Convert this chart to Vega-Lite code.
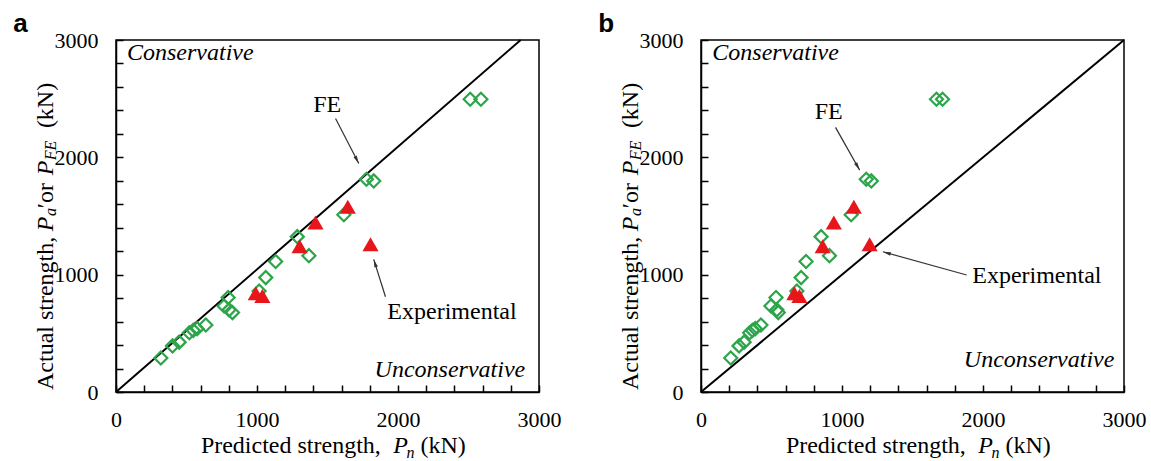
{
  "$schema": "https://vega.github.io/schema/vega-lite/v6.json",
  "background": "white",
  "padding": {"left": 12, "top": 10, "right": 5, "bottom": 0},
  "config": {
    "view": {"stroke": "black", "strokeWidth": 1.5},
    "font": "Liberation Serif"
  },
  "data": {
    "values": [
      {"panel": "a", "kind": "diag", "x": 0, "y": 0},
      {"panel": "a", "kind": "diag", "x": 2870, "y": 3000},
      {"panel": "b", "kind": "diag", "x": 0, "y": 0},
      {"panel": "b", "kind": "diag", "x": 3000, "y": 3000},

      {"panel": "a", "kind": "FE", "x": 318, "y": 290},
      {"panel": "a", "kind": "FE", "x": 401, "y": 393},
      {"panel": "a", "kind": "FE", "x": 448, "y": 425},
      {"panel": "a", "kind": "FE", "x": 520, "y": 505},
      {"panel": "a", "kind": "FE", "x": 548, "y": 525},
      {"panel": "a", "kind": "FE", "x": 575, "y": 540},
      {"panel": "a", "kind": "FE", "x": 637, "y": 571},
      {"panel": "a", "kind": "FE", "x": 767, "y": 733},
      {"panel": "a", "kind": "FE", "x": 795, "y": 805},
      {"panel": "a", "kind": "FE", "x": 802, "y": 700},
      {"panel": "a", "kind": "FE", "x": 826, "y": 677},
      {"panel": "a", "kind": "FE", "x": 1015, "y": 860},
      {"panel": "a", "kind": "FE", "x": 1062, "y": 975},
      {"panel": "a", "kind": "FE", "x": 1132, "y": 1112},
      {"panel": "a", "kind": "FE", "x": 1286, "y": 1324},
      {"panel": "a", "kind": "FE", "x": 1368, "y": 1162},
      {"panel": "a", "kind": "FE", "x": 1616, "y": 1511},
      {"panel": "a", "kind": "FE", "x": 1776, "y": 1813},
      {"panel": "a", "kind": "FE", "x": 1828, "y": 1799},
      {"panel": "a", "kind": "FE", "x": 2512, "y": 2495},
      {"panel": "a", "kind": "FE", "x": 2588, "y": 2495},

      {"panel": "b", "kind": "FE", "x": 211, "y": 290},
      {"panel": "b", "kind": "FE", "x": 270, "y": 393},
      {"panel": "b", "kind": "FE", "x": 306, "y": 425},
      {"panel": "b", "kind": "FE", "x": 345, "y": 505},
      {"panel": "b", "kind": "FE", "x": 365, "y": 525},
      {"panel": "b", "kind": "FE", "x": 385, "y": 540},
      {"panel": "b", "kind": "FE", "x": 425, "y": 571},
      {"panel": "b", "kind": "FE", "x": 496, "y": 733},
      {"panel": "b", "kind": "FE", "x": 532, "y": 805},
      {"panel": "b", "kind": "FE", "x": 538, "y": 700},
      {"panel": "b", "kind": "FE", "x": 548, "y": 677},
      {"panel": "b", "kind": "FE", "x": 680, "y": 860},
      {"panel": "b", "kind": "FE", "x": 710, "y": 975},
      {"panel": "b", "kind": "FE", "x": 745, "y": 1112},
      {"panel": "b", "kind": "FE", "x": 852, "y": 1324},
      {"panel": "b", "kind": "FE", "x": 911, "y": 1162},
      {"panel": "b", "kind": "FE", "x": 1065, "y": 1511},
      {"panel": "b", "kind": "FE", "x": 1172, "y": 1813},
      {"panel": "b", "kind": "FE", "x": 1208, "y": 1799},
      {"panel": "b", "kind": "FE", "x": 1670, "y": 2495},
      {"panel": "b", "kind": "FE", "x": 1713, "y": 2495},

      {"panel": "a", "kind": "Exp", "x": 991, "y": 841},
      {"panel": "a", "kind": "Exp", "x": 1038, "y": 818},
      {"panel": "a", "kind": "Exp", "x": 1302, "y": 1242},
      {"panel": "a", "kind": "Exp", "x": 1415, "y": 1444},
      {"panel": "a", "kind": "Exp", "x": 1644, "y": 1578},
      {"panel": "a", "kind": "Exp", "x": 1805, "y": 1260},

      {"panel": "b", "kind": "Exp", "x": 662, "y": 841},
      {"panel": "b", "kind": "Exp", "x": 698, "y": 818},
      {"panel": "b", "kind": "Exp", "x": 863, "y": 1242},
      {"panel": "b", "kind": "Exp", "x": 942, "y": 1444},
      {"panel": "b", "kind": "Exp", "x": 1084, "y": 1578},
      {"panel": "b", "kind": "Exp", "x": 1196, "y": 1260},

      {"panel": "a", "kind": "arrow", "id": "FEa", "x": 1557, "y": 2331, "x2": 1722, "y2": 1948},
      {"panel": "a", "kind": "arrow", "id": "Expa", "x": 1911, "y": 812, "x2": 1828, "y2": 1130},
      {"panel": "b", "kind": "arrow", "id": "FEb", "x": 954, "y": 2255, "x2": 1125, "y2": 1891},
      {"panel": "b", "kind": "arrow", "id": "Expb", "x": 1884, "y": 997, "x2": 1290, "y2": 1195},

      {"panel": "a", "kind": "note", "label": "FE", "x": 1498, "y": 2445},
      {"panel": "a", "kind": "note", "label": "Experimental", "x": 2383, "y": 684},
      {"panel": "b", "kind": "note", "label": "FE", "x": 906, "y": 2388},
      {"panel": "b", "kind": "note", "label": "Experimental", "x": 2382, "y": 991},
      {"panel": "a", "kind": "noteL", "label": "Conservative", "x": 78, "y": 2885},
      {"panel": "b", "kind": "noteL", "label": "Conservative", "x": 80, "y": 2885},
      {"panel": "a", "kind": "noteR", "label": "Unconservative", "x": 2902, "y": 187},
      {"panel": "b", "kind": "noteR", "label": "Unconservative", "x": 2932, "y": 273},

      {"panel": "a", "kind": "xt", "label": "Predicted strength,", "x": 602, "y": -520},
      {"panel": "a", "kind": "xti", "label": "P", "x": 1966, "y": -520},
      {"panel": "a", "kind": "xts", "label": "n", "x": 2060, "y": -563},
      {"panel": "a", "kind": "xt", "label": "(kN)", "x": 2159, "y": -520},
      {"panel": "b", "kind": "xt", "label": "Predicted strength,", "x": 602, "y": -520},
      {"panel": "b", "kind": "xti", "label": "P", "x": 1966, "y": -520},
      {"panel": "b", "kind": "xts", "label": "n", "x": 2060, "y": -563},
      {"panel": "b", "kind": "xt", "label": "(kN)", "x": 2159, "y": -520},

      {"panel": "a", "kind": "yt", "label": "Actual strength,", "x": -446, "y": 17},
      {"panel": "a", "kind": "yti", "label": "P", "x": -446, "y": 1371},
      {"panel": "a", "kind": "yts", "label": "a", "x": -422, "y": 1499},
      {"panel": "a", "kind": "yt", "label": "′or", "x": -446, "y": 1567},
      {"panel": "a", "kind": "yti", "label": "P", "x": -446, "y": 1848},
      {"panel": "a", "kind": "yts", "label": "FE", "x": -422, "y": 1976},
      {"panel": "a", "kind": "yt", "label": "(kN)", "x": -446, "y": 2249},
      {"panel": "b", "kind": "yt", "label": "Actual strength,", "x": -446, "y": 17},
      {"panel": "b", "kind": "yti", "label": "P", "x": -446, "y": 1371},
      {"panel": "b", "kind": "yts", "label": "a", "x": -422, "y": 1499},
      {"panel": "b", "kind": "yt", "label": "′or", "x": -446, "y": 1567},
      {"panel": "b", "kind": "yti", "label": "P", "x": -446, "y": 1848},
      {"panel": "b", "kind": "yts", "label": "FE", "x": -422, "y": 1976},
      {"panel": "b", "kind": "yt", "label": "(kN)", "x": -446, "y": 2249},

      {"panel": "a", "kind": "tag", "label": "a", "x": -729, "y": 3068},
      {"panel": "b", "kind": "tag", "label": "b", "x": -729, "y": 3068}
    ]
  },
  "facet": {
    "column": {"field": "panel", "type": "nominal", "header": {"title": null, "labels": false}}
  },
  "spacing": 35,
  "resolve": {"axis": {"x": "independent", "y": "independent"}},
  "spec": {
    "width": 423,
    "height": 352,
    "encoding": {
      "x": {
        "field": "x", "type": "quantitative",
        "scale": {"domain": [0, 3000], "nice": false, "zero": false},
        "axis": {
          "title": null, "grid": false, "format": "d",
          "values": [0, 200, 400, 600, 800, 1000, 1200, 1400, 1600, 1800, 2000, 2200, 2400, 2600, 2800, 3000],
          "labelExpr": "datum.value % 1000 === 0 ? datum.label : ''",
          "tickSize": -7, "tickWidth": 1.5, "tickColor": "black",
          "domainColor": "black", "domainWidth": 1.5,
          "labelFont": "Liberation Serif", "labelFontSize": 22, "labelColor": "black",
          "labelPadding": 24, "labelFlush": false, "labelOverlap": false, "labelBound": false
        }
      },
      "y": {
        "field": "y", "type": "quantitative",
        "scale": {"domain": [0, 3000], "nice": false, "zero": false},
        "axis": {
          "title": null, "grid": false, "format": "d",
          "values": [0, 200, 400, 600, 800, 1000, 1200, 1400, 1600, 1800, 2000, 2200, 2400, 2600, 2800, 3000],
          "labelExpr": "datum.value % 1000 === 0 ? datum.label : ''",
          "tickSize": -7, "tickWidth": 1.5, "tickColor": "black",
          "domainColor": "black", "domainWidth": 1.5,
          "labelFont": "Liberation Serif", "labelFontSize": 22, "labelColor": "black",
          "labelPadding": 25, "labelFlush": false, "labelOverlap": false, "labelBound": false
        }
      }
    },
    "layer": [
      {
        "transform": [{"filter": "datum.kind === 'diag'"}],
        "mark": {"type": "line", "color": "black", "strokeWidth": 2}
      },
      {
        "transform": [{"filter": "datum.kind === 'FE'"}],
        "mark": {"type": "point", "shape": "diamond", "filled": false, "stroke": "#2ca54a", "strokeWidth": 2.2, "size": 170, "opacity": 1}
      },
      {
        "transform": [{"filter": "datum.kind === 'Exp'"}],
        "mark": {"type": "point", "shape": "triangle-up", "filled": true, "color": "#e8161b", "size": 260, "opacity": 1}
      },
      {
        "transform": [{"filter": "datum.kind === 'arrow'"}],
        "mark": {"type": "rule", "color": "#333333", "strokeWidth": 1.2},
        "encoding": {"x2": {"field": "x2"}, "y2": {"field": "y2"}}
      },
      {
        "transform": [{"filter": "datum.id === 'FEa'"}],
        "mark": {"type": "point", "shape": "M0,0L0.45,2L-0.45,2Z", "filled": true, "color": "#333333", "size": 64, "opacity": 1, "angle": 152.6},
        "encoding": {"x": {"field": "x2", "type": "quantitative"}, "y": {"field": "y2", "type": "quantitative"}}
      },
      {
        "transform": [{"filter": "datum.id === 'Expa'"}],
        "mark": {"type": "point", "shape": "M0,0L0.45,2L-0.45,2Z", "filled": true, "color": "#333333", "size": 64, "opacity": 1, "angle": 342.6},
        "encoding": {"x": {"field": "x2", "type": "quantitative"}, "y": {"field": "y2", "type": "quantitative"}}
      },
      {
        "transform": [{"filter": "datum.id === 'FEb'"}],
        "mark": {"type": "point", "shape": "M0,0L0.45,2L-0.45,2Z", "filled": true, "color": "#333333", "size": 64, "opacity": 1, "angle": 150.7},
        "encoding": {"x": {"field": "x2", "type": "quantitative"}, "y": {"field": "y2", "type": "quantitative"}}
      },
      {
        "transform": [{"filter": "datum.id === 'Expb'"}],
        "mark": {"type": "point", "shape": "M0,0L0.45,2L-0.45,2Z", "filled": true, "color": "#333333", "size": 64, "opacity": 1, "angle": 285.6},
        "encoding": {"x": {"field": "x2", "type": "quantitative"}, "y": {"field": "y2", "type": "quantitative"}}
      },
      {
        "transform": [{"filter": "datum.kind === 'note'"}],
        "mark": {"type": "text", "font": "Liberation Serif", "fontSize": 24, "color": "black", "align": "center", "baseline": "middle"},
        "encoding": {"text": {"field": "label"}}
      },
      {
        "transform": [{"filter": "datum.kind === 'noteL'"}],
        "mark": {"type": "text", "font": "Liberation Serif", "fontStyle": "italic", "fontSize": 24, "color": "black", "align": "left", "baseline": "middle"},
        "encoding": {"text": {"field": "label"}}
      },
      {
        "transform": [{"filter": "datum.kind === 'noteR'"}],
        "mark": {"type": "text", "font": "Liberation Serif", "fontStyle": "italic", "fontSize": 24, "color": "black", "align": "right", "baseline": "middle"},
        "encoding": {"text": {"field": "label"}}
      },
      {
        "transform": [{"filter": "datum.kind === 'xt'"}],
        "mark": {"type": "text", "font": "Liberation Serif", "fontSize": 24, "color": "black", "align": "left", "baseline": "alphabetic"},
        "encoding": {"text": {"field": "label"}}
      },
      {
        "transform": [{"filter": "datum.kind === 'xti'"}],
        "mark": {"type": "text", "font": "Liberation Serif", "fontStyle": "italic", "fontSize": 24, "color": "black", "align": "left", "baseline": "alphabetic"},
        "encoding": {"text": {"field": "label"}}
      },
      {
        "transform": [{"filter": "datum.kind === 'xts'"}],
        "mark": {"type": "text", "font": "Liberation Serif", "fontStyle": "italic", "fontSize": 16, "color": "black", "align": "left", "baseline": "alphabetic"},
        "encoding": {"text": {"field": "label"}}
      },
      {
        "transform": [{"filter": "datum.kind === 'yt'"}],
        "mark": {"type": "text", "font": "Liberation Serif", "fontSize": 24, "color": "black", "align": "left", "baseline": "alphabetic", "angle": 270},
        "encoding": {"text": {"field": "label"}}
      },
      {
        "transform": [{"filter": "datum.kind === 'yti'"}],
        "mark": {"type": "text", "font": "Liberation Serif", "fontStyle": "italic", "fontSize": 24, "color": "black", "align": "left", "baseline": "alphabetic", "angle": 270},
        "encoding": {"text": {"field": "label"}}
      },
      {
        "transform": [{"filter": "datum.kind === 'yts'"}],
        "mark": {"type": "text", "font": "Liberation Serif", "fontStyle": "italic", "fontSize": 16, "color": "black", "align": "left", "baseline": "alphabetic", "angle": 270},
        "encoding": {"text": {"field": "label"}}
      },
      {
        "transform": [{"filter": "datum.kind === 'tag'"}],
        "mark": {"type": "text", "font": "Liberation Sans", "fontWeight": "bold", "fontSize": 26, "color": "black", "align": "left", "baseline": "alphabetic"},
        "encoding": {"text": {"field": "label"}}
      }
    ]
  }
}
